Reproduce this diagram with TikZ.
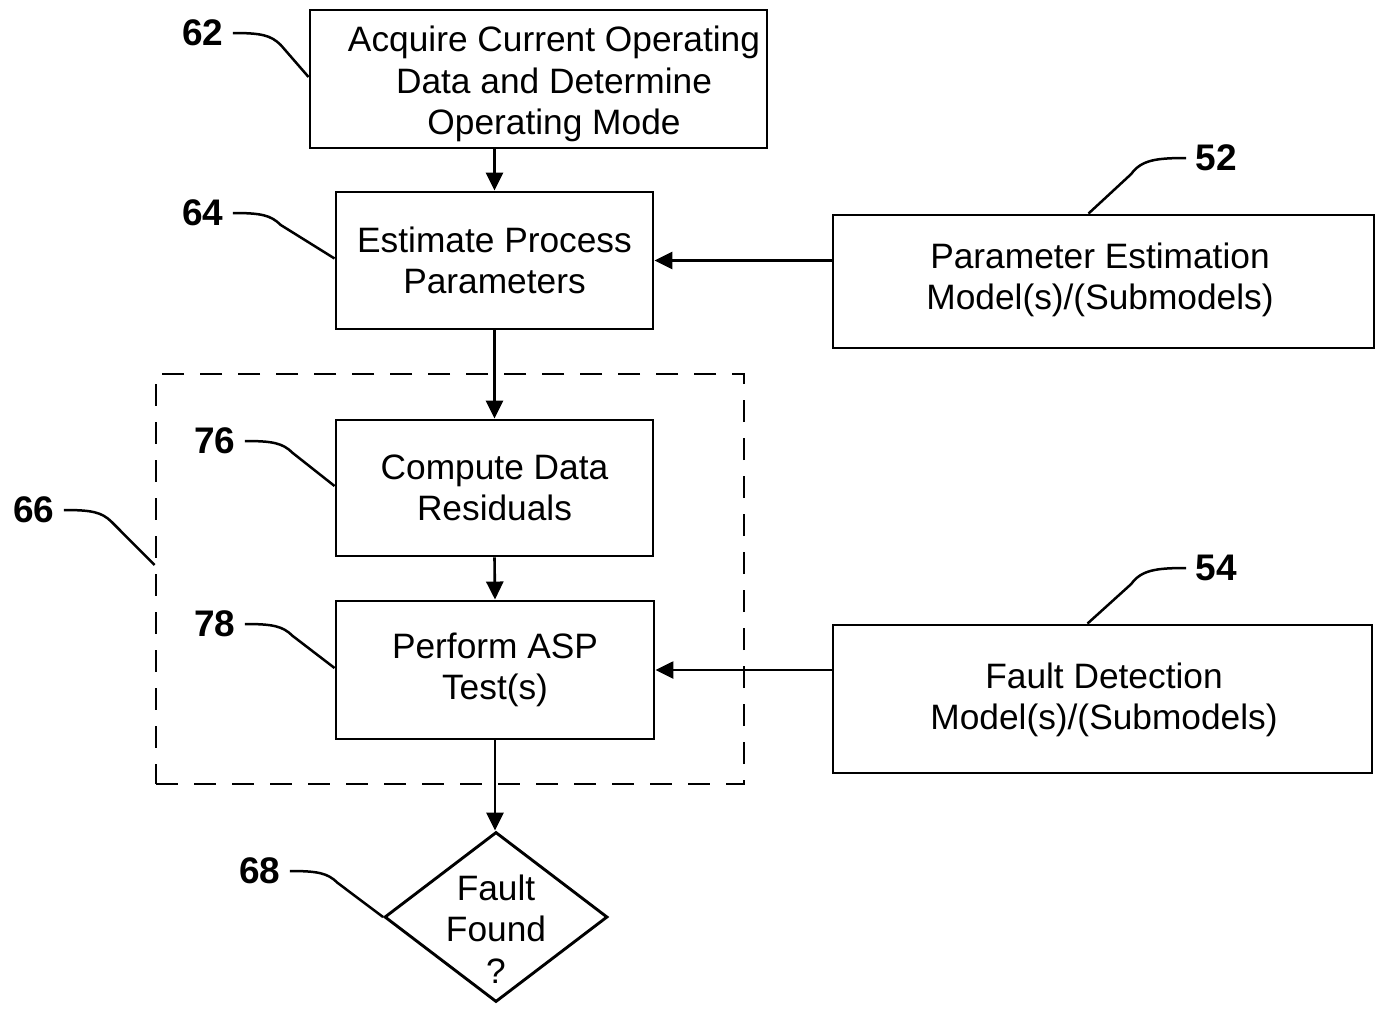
\documentclass[tikz,border=0pt]{standalone}
\usepackage{fontspec}
\setmainfont{Liberation Sans}
\usetikzlibrary{arrows.meta,shapes.geometric,calc}
\begin{document}
\begin{tikzpicture}[x=1pt,y=-1pt,
 box/.style={draw, line width=2.9pt, inner sep=0pt, align=center, font=\fontsize{35.3}{41.5}\selectfont},
 txt/.style={align=center, font=\fontsize{35.3}{41.5}\selectfont, inner sep=0pt},
 lab/.style={font=\fontsize{37}{40}\selectfont\bfseries, inner sep=0pt},
 arr/.style={line width=2.6pt, -{Triangle[length=18pt,width=17pt]}},
 leader/.style={line width=2.5pt},
 grp/.style={draw, line width=2.8pt, dash pattern=on 22pt off 16pt, inner sep=0pt}]
\useasboundingbox (0,0) rectangle (1375,1010);

% group
\node[grp, minimum width=588pt, minimum height=410pt] (g66) at (450,579) {};

% boxes
\node[box, minimum width=457pt, minimum height=138pt] (b62) at (538.5,79) {};
\node[txt] (t62) at (554,84) {Acquire Current Operating\\Data and Determine\\Operating Mode};
\node[box, minimum width=317pt, minimum height=137pt] (b64) at (494.5,260.5) {Estimate Process\\Parameters};
\node[box, minimum width=317pt, minimum height=136pt] (b76) at (494.5,488) {Compute Data\\Residuals};
\node[box, minimum width=318pt, minimum height=138pt] (b78) at (495,670) {Perform ASP\\Test(s)};
\node[box, minimum width=541pt, minimum height=133pt] (b52) at (1103.5,281.5) {};
\node[txt] (t52) at (1100,280) {Parameter Estimation\\Model(s)/(Submodels)};
\node[box, minimum width=539pt, minimum height=148pt] (b54) at (1102.5,699) {};
\node[txt] (t54) at (1104,700) {Fault Detection\\Model(s)/(Submodels)};

% decision
\node[diamond, draw, line width=2.9pt, inner sep=0pt, minimum width=223pt, minimum height=170pt] (d68) at (496,917) {};
\node[txt] (t68) at (496,929) {Fault\\Found\\?};

% arrows
\draw[arr] (b62.south -| b64.north) -- (b64.north);
\draw[arr] (b64.south) -- (b76.north);
\draw[arr] (b76.south) -- (b78.north);
\draw[arr] (b78.south) -- (b78.south |- d68.north);
\draw[arr] (b52.west |- b64.east) -- (b64.east);
\draw[arr] (b54.west |- b78.east) -- (b78.east);

% labels
\node[lab] (l62) at (203,33) {62};
\node[lab] (l64) at (203,213) {64};
\node[lab] (l76) at (215,441) {76};
\node[lab] (l78) at (215,624) {78};
\node[lab] (l66) at (34,510) {66};
\node[lab] (l68) at (260,871) {68};
\node[lab] (l52) at (1216,158) {52};
\node[lab] (l54) at (1216,568) {54};

% leader start points
\coordinate (s62) at ($(l62.east)+(9,0)$);
\coordinate (s64) at ($(l64.east)+(9,0)$);
\coordinate (s76) at ($(l76.east)+(9,0)$);
\coordinate (s78) at ($(l78.east)+(9,0)$);
\coordinate (s66) at ($(l66.east)+(9,0)$);
\coordinate (s68) at ($(l68.east)+(9,0)$);
\coordinate (s52) at ($(l52.west)+(-9,0)$);
\coordinate (s54) at ($(l54.west)+(-9,0)$);

\draw[leader] (s62) .. controls ($(s62)+(28,0)$) and ($(s62)+(38,2)$) .. ($(s62)+(48,12)$) -- ([yshift=2pt]b62.west);
\draw[leader] (s64) .. controls ($(s64)+(28,0)$) and ($(s64)+(38,2)$) .. ($(s64)+(48,12)$) -- ([yshift=2pt]b64.west);
\draw[leader] (s76) .. controls ($(s76)+(28,0)$) and ($(s76)+(38,2)$) .. ($(s76)+(48,12)$) -- ([yshift=2pt]b76.west);
\draw[leader] (s78) .. controls ($(s78)+(28,0)$) and ($(s78)+(38,2)$) .. ($(s78)+(48,12)$) -- ([yshift=2pt]b78.west);
\draw[leader] (s66) .. controls ($(s66)+(28,0)$) and ($(s66)+(38,2)$) .. ($(s66)+(48,12)$) -- ([yshift=14pt]g66.west);
\draw[leader] (s68) .. controls ($(s68)+(28,0)$) and ($(s68)+(38,2)$) .. ($(s68)+(48,12)$) -- (d68.west);
\draw[leader] (s52) .. controls ($(s52)+(-30,0)$) and ($(s52)+(-45,2)$) .. ($(s52)+(-55,16)$) -- ([xshift=-15pt]b52.north);
\draw[leader] (s54) .. controls ($(s54)+(-30,0)$) and ($(s54)+(-45,2)$) .. ($(s54)+(-55,16)$) -- ([xshift=-15pt]b54.north);
\end{tikzpicture}
\end{document}
